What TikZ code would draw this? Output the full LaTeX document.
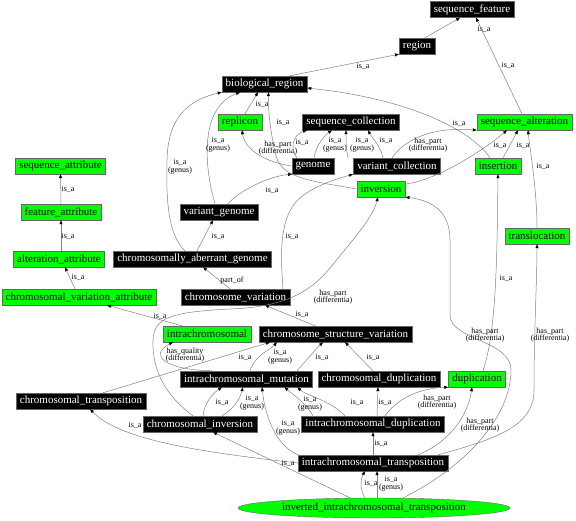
\documentclass[tikz,border=0pt]{standalone}
\usepackage{fontspec}
\setmainfont{Liberation Serif}
\usetikzlibrary{arrows.meta,shapes.geometric}

\begin{document}
\begin{tikzpicture}[x=1pt,y=-1pt,
        term/.style={draw=black!60, inner xsep=3.8pt, inner ysep=0pt, minimum height=16pt, font=\fontsize{11}{12}\selectfont},
        blk/.style={term, fill=black, text=white},
        grn/.style={term, fill=green},
        ell/.style={ellipse, draw=black!60, fill=green, minimum width=272pt, minimum height=20pt, inner sep=0pt, font=\fontsize{11}{12}\selectfont},
        rel/.style={draw=black!50, line width=0.5pt, -{Triangle[length=4pt,width=3pt,black]}},
        lbl/.style={font=\fontsize{8}{7.7}\selectfont, align=center, inner sep=0pt}]
        \useasboundingbox (0,0) rectangle (576,520);

        \node[blk] (seqfeat) at (472,9.5) {sequence\_feature};
        \node[blk] (region) at (417,46) {region};
        \node[blk] (bioreg) at (264.5,84) {biological\_region};
        \node[grn] (replicon) at (240,122) {replicon};
        \node[blk] (seqcoll) at (351,122) {sequence\_collection};
        \node[grn] (seqalt) at (524.5,122) {sequence\_alteration};
        \node[grn] (seqattr) at (60.5,166) {sequence\_attribute};
        \node[blk] (genome) at (313,166) {genome};
        \node[blk] (varcoll) at (397,166) {variant\_collection};
        \node[grn] (insertion) at (498,166) {insertion};
        \node[grn] (inversion) at (381,189) {inversion};
        \node[grn] (featattr) at (61,212) {feature\_attribute};
        \node[blk] (vargen) at (219,212) {variant\_genome};
        \node[grn] (transloc) at (537,236) {translocation};
        \node[grn] (altattr) at (59,259) {alteration\_attribute};
        \node[blk] (abgen) at (192.5,259) {chromosomally\_aberrant\_genome};
        \node[grn] (cvattr) at (79,297) {chromosomal\_variation\_attribute};
        \node[blk] (chrvar) at (235.5,297) {chromosome\_variation};
        \node[grn] (intra) at (207,334) {intrachromosomal};
        \node[blk] (csv) at (335.5,334) {chromosome\_structure\_variation};
        \node[blk] (icm) at (246.5,379) {intrachromosomal\_mutation};
        \node[blk] (chrdup) at (379,379) {chromosomal\_duplication};
        \node[grn] (dup) at (477,379) {duplication};
        \node[blk] (chrtrans) at (81,401) {chromosomal\_transposition};
        \node[blk] (chrinv) at (200,424) {chromosomal\_inversion};
        \node[blk] (icd) at (373,424) {intrachromosomal\_duplication};
        \node[blk] (ict) at (373,463) {intrachromosomal\_transposition};
        \node[ell] (iit) at (374,508) {inverted\_intrachromosomal\_transposition};

        \draw[rel] ([xshift=8pt]region.north) -- ([xshift=-12pt]seqfeat.south) node[lbl] at (484,29) {is\_a};
        \draw[rel] ([xshift=-2.5pt]seqalt.north) -- ([xshift=4pt]seqfeat.south) node[lbl] at (508,65) {is\_a};
        \draw[rel] ([xshift=25pt]bioreg.north) -- (region.south west) node[lbl] at (363,66) {is\_a};
        \draw[rel] ([xshift=5pt]replicon.north) -- ([xshift=-6.5pt]bioreg.south) node[lbl] at (262,104) {is\_a};
        \draw[rel] (inversion.west) .. controls (320,182) and (282,180) .. (276,156) .. controls (271,135) and (268,112) .. ([xshift=4pt]bioreg.south) node[lbl] at (283,122) {is\_a};
        \draw[rel] ([xshift=-8pt]insertion.north) .. controls (475,135) and (420,100) .. ([yshift=-4pt]bioreg.east) node[lbl] at (459,123) {is\_a};
        \draw[rel] (genome.west) .. controls (265,162) and (245,150) .. ([xshift=2pt]replicon.south) node[lbl] at (278,148) {has\_part\\(differentia)};
        \draw[rel] ([xshift=-16pt]genome.north) .. controls (290,150) and (292,135) .. ([xshift=-44pt]seqcoll.south) node[lbl] at (302,142) {is\_a};
        \draw[rel] ([xshift=1pt]genome.north) .. controls (316,145) and (325,135) .. ([xshift=-19pt]seqcoll.south) node[lbl] at (335,145) {is\_a\\(genus)};
        \draw[rel] ([xshift=-49pt]varcoll.north) .. controls (346,148) and (346,140) .. ([xshift=-5pt]seqcoll.south) node[lbl] at (362,145) {is\_a\\(genus)};
        \draw[rel] ([xshift=-14pt]varcoll.north) .. controls (380,145) and (372,138) .. ([xshift=17pt]seqcoll.south) node[lbl] at (386,140) {is\_a};
        \draw[rel] ([xshift=-5pt]varcoll.north) .. controls (408,135) and (440,127) .. (seqalt.south west) node[lbl] at (428,145) {has\_part\\(differentia)};
        \draw[rel] ([yshift=5pt]inversion.east) .. controls (440,180) and (490,145) .. ([xshift=-17.5pt]seqalt.south) node[lbl] at (500,145) {is\_a};
        \draw[rel] ([xshift=5pt]insertion.north) -- ([xshift=-6.5pt]seqalt.south) node[lbl] at (523,145) {is\_a};
        \draw[rel] (transloc.north) .. controls (537,190) and (530,150) .. ([xshift=3.5pt]seqalt.south) node[lbl] at (543,166) {is\_a};

        \draw[rel] (featattr.north) -- (seqattr.south) node[lbl] at (68,189) {is\_a};
        \draw[rel] ([xshift=2pt]altattr.north) -- (featattr.south) node[lbl] at (68,236) {is\_a};
        \draw[rel] ([xshift=-4pt]cvattr.north) -- ([xshift=6pt]altattr.south) node[lbl] at (78,277) {is\_a};

        \draw[rel] ([xshift=9pt]vargen.north) .. controls (240,190) and (270,176) .. ([xshift=-21pt]genome.south) node[lbl] at (272,190) {is\_a};
        \draw[rel] ([xshift=-4pt]vargen.north) .. controls (205,170) and (198,108) .. ([xshift=-24.5pt]bioreg.south) node[lbl] at (218,145) {is\_a\\(genus)};
        \draw[rel] ([xshift=-7.5pt]abgen.north) .. controls (168,235) and (166,200) .. (167,160) .. controls (168,115) and (190,100) .. (bioreg.south west) node[lbl] at (180,167) {is\_a\\(genus)};
        \draw[rel] ([xshift=4.5pt]abgen.north) -- ([xshift=-6pt]vargen.south) node[lbl] at (218,236) {is\_a};
        \draw[rel] ([xshift=-5.5pt]chrvar.north) -- ([xshift=10.5pt]abgen.south) node[lbl] at (232,281) {part\_of};
        \draw[rel] ([xshift=47.5pt]chrvar.north) .. controls (280,250) and (280,215) .. (300,198) .. controls (315,185) and (340,178) .. ([xshift=-44pt]varcoll.south) node[lbl] at (292,236) {is\_a};
        \draw[rel] ([xshift=-20.5pt]csv.north) -- ([xshift=29.5pt]chrvar.south) node[lbl] at (302,314) {is\_a};
        \draw[rel] ([xshift=-7pt]chrinv.north) .. controls (165,395) and (152,370) .. (153,340) .. controls (154,318) and (170,312) .. (230,309) .. controls (285,307) and (310,292) .. (330,268) .. controls (348,245) and (372,220) .. ([xshift=-3pt]inversion.south) node[lbl] at (333,297) {has\_part\\(differentia)};
        \draw[rel] ([xshift=-25pt]intra.north) -- ([xshift=28pt]cvattr.south) node[lbl] at (160,316) {is\_a};
        \draw[rel] ([xshift=-34.5pt]icm.north) .. controls (165,370) and (148,355) .. ([xshift=-34pt]intra.south) node[lbl] at (185,355) {has\_quality\\(differentia)};

        \draw[rel] ([xshift=22pt]chrtrans.north) -- ([xshift=-65.5pt]csv.south) node[lbl] at (245,357) {is\_a};
        \draw[rel] ([xshift=3.5pt]icm.north) .. controls (255,355) and (270,350) .. ([xshift=-58.5pt]csv.south) node[lbl] at (280,357) {is\_a\\(genus)};
        \draw[rel] ([xshift=50.5pt]icm.north) .. controls (305,362) and (315,350) .. ([xshift=-12.5pt]csv.south) node[lbl] at (322,357) {is\_a};
        \draw[rel] ([xshift=-6pt]chrdup.north) -- ([xshift=9.5pt]csv.south) node[lbl] at (373,357) {is\_a};
        \draw[rel] ([xshift=6pt]dup.north) .. controls (497,330) and (497,250) .. (insertion.south) node[lbl] at (506,278) {is\_a};
        \draw[rel] ([xshift=29pt]iit.north) .. controls (460,470) and (511,420) .. (511,370) .. controls (511,340) and (450,340) .. (450,315) -- (450,240) .. controls (450,210) and (430,200) .. (inversion.south east) node[lbl] at (485,335) {has\_part\\(differentia)};
        \draw[rel] ([xshift=65pt]ict.north) .. controls (500,438) and (534,425) .. (534,390) .. controls (534,330) and (537,280) .. (transloc.south) node[lbl] at (550,335) {has\_part\\(differentia)};
        \draw[rel] ([xshift=45pt]ict.north) .. controls (450,442) and (468,415) .. ([xshift=-5pt]dup.south) node[lbl] at (480,425) {has\_part\\(differentia)};
        \draw[rel] ([xshift=12pt]icd.north) .. controls (400,395) and (425,388) .. (dup.south west) node[lbl] at (437,402) {has\_part\\(differentia)};
        \draw[rel] ([xshift=4pt]icd.north) -- ([xshift=-1pt]chrdup.south) node[lbl] at (385,402) {is\_a};
        \draw[rel] ([xshift=-28pt]icd.north) .. controls (330,400) and (305,395) .. ([xshift=51pt]icm.south) node[lbl] at (357,402) {is\_a};
        \draw[rel] ([xshift=-60pt]icd.north) .. controls (305,402) and (292,394) .. ([xshift=38pt]icm.south) node[lbl] at (310,404) {is\_a\\(genus)};
        \draw[rel] (ict.north west) .. controls (275,445) and (265,415) .. ([xshift=15.5pt]icm.south) node[lbl] at (288,428) {is\_a\\(genus)};
        \draw[rel] (ict.west) .. controls (200,452) and (120,440) .. ([xshift=9pt]chrtrans.south) node[lbl] at (135,425) {is\_a};
        \draw[rel] (ict.north) -- (icd.south) node[lbl] at (381,443) {is\_a};
        \draw[rel] ([xshift=3pt]chrinv.north) .. controls (205,400) and (215,392) .. ([xshift=-24.5pt]icm.south) node[lbl] at (222,402) {is\_a};
        \draw[rel] ([xshift=22pt]chrinv.north) .. controls (235,408) and (240,398) .. ([xshift=-3.5pt]icm.south) node[lbl] at (252,403) {is\_a\\(genus)};
        \draw[rel] ([xshift=-24pt]iit.north) -- ([xshift=13pt]chrinv.south) node[lbl] at (288,463) {is\_a};
        \draw[rel] ([xshift=-9pt]iit.north) .. controls (359,488) and (361,478) .. ([xshift=-8pt]ict.south) node[lbl] at (371,483) {is\_a};
        \draw[rel] ([xshift=3pt]iit.north) -- ([xshift=4pt]ict.south) node[lbl] at (391,484) {is\_a\\(genus)};
    \end{tikzpicture}
\end{document}
